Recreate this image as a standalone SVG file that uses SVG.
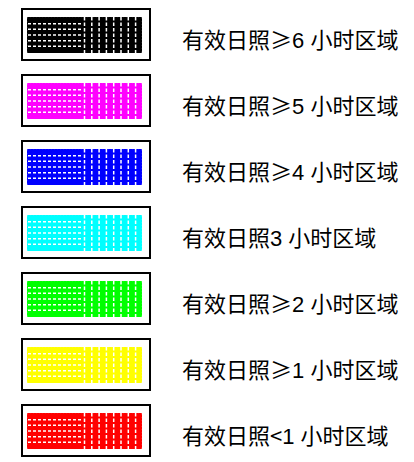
<svg xmlns="http://www.w3.org/2000/svg" xmlns:xlink="http://www.w3.org/1999/xlink" width="414" height="462" viewBox="0 0 414 462">
<style>
.frame{fill:#fff;stroke:#000;stroke-width:2}
.lbl{font-family:"Liberation Sans","Noto Sans CJK SC",sans-serif;font-size:22px;fill:#000}
.ge{font-family:"Noto Sans CJK SC",sans-serif}
.h{stroke:#fff;stroke-width:1.4;stroke-dasharray:3 2}
.v{stroke:#fff;stroke-width:1.5;stroke-dasharray:3.5 2}
</style>
<defs>
<symbol id="sw" overflow="visible">
<rect x="0" y="0" width="113" height="34" fill="currentColor" stroke="currentColor" stroke-width="2" stroke-dasharray="2 1" stroke-linecap="round"/>
<g class="h">
<line x1="0" y1="5.7" x2="55" y2="5.7"/>
<line x1="0" y1="11.3" x2="55" y2="11.3"/>
<line x1="0" y1="17" x2="55" y2="17"/>
<line x1="0" y1="22.7" x2="55" y2="22.7"/>
<line x1="0" y1="28.3" x2="55" y2="28.3"/>
</g>
<g class="v">
<line x1="56.5" y1="-1" x2="56.5" y2="35"/>
<line x1="63.8" y1="-1" x2="63.8" y2="35"/>
<line x1="71.1" y1="-1" x2="71.1" y2="35"/>
<line x1="78.4" y1="-1" x2="78.4" y2="35"/>
<line x1="85.7" y1="-1" x2="85.7" y2="35"/>
<line x1="93" y1="-1" x2="93" y2="35"/>
<line x1="100.3" y1="-1" x2="100.3" y2="35"/>
<line x1="107.6" y1="-1" x2="107.6" y2="35"/>
</g>
</symbol>
</defs>
<g id="legend-6">
<rect class="frame" x="22" y="9" width="128" height="51"/>
<use xlink:href="#sw" x="28" y="18" style="color:#000"/>
<text class="lbl" x="182" y="48">有效日照<tspan class="ge">≥</tspan>6 小时区域</text>
</g>
<g id="legend-5">
<rect class="frame" x="22" y="75" width="128" height="51"/>
<use xlink:href="#sw" x="28" y="84" style="color:#ff00ff"/>
<text class="lbl" x="182" y="114">有效日照<tspan class="ge">≥</tspan>5 小时区域</text>
</g>
<g id="legend-4">
<rect class="frame" x="22" y="141" width="128" height="51"/>
<use xlink:href="#sw" x="28" y="150" style="color:#0000ff"/>
<text class="lbl" x="182" y="180">有效日照<tspan class="ge">≥</tspan>4 小时区域</text>
</g>
<g id="legend-3">
<rect class="frame" x="22" y="207" width="128" height="51"/>
<use xlink:href="#sw" x="28" y="216" style="color:#00ffff"/>
<text class="lbl" x="182" y="246">有效日照3 小时区域</text>
</g>
<g id="legend-2">
<rect class="frame" x="22" y="273" width="128" height="51"/>
<use xlink:href="#sw" x="28" y="282" style="color:#00ff00"/>
<text class="lbl" x="182" y="312">有效日照<tspan class="ge">≥</tspan>2 小时区域</text>
</g>
<g id="legend-1">
<rect class="frame" x="22" y="339" width="128" height="51"/>
<use xlink:href="#sw" x="28" y="348" style="color:#ffff00"/>
<text class="lbl" x="182" y="378">有效日照<tspan class="ge">≥</tspan>1 小时区域</text>
</g>
<g id="legend-0">
<rect class="frame" x="22" y="405" width="128" height="51"/>
<use xlink:href="#sw" x="28" y="414" style="color:#ff0000"/>
<text class="lbl" x="182" y="444">有效日照<tspan class="ge">&lt;</tspan>1 小时区域</text>
</g>
<g id="connectors"/>
</svg>
